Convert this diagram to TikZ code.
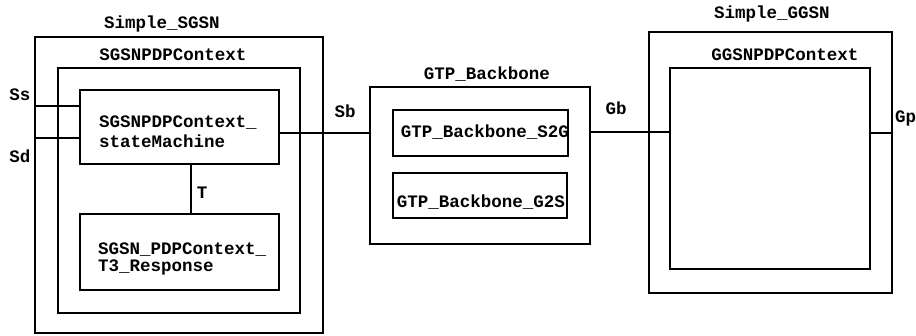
\documentclass[tikz,border=0pt]{standalone}
\usepackage{fontspec}
\setmonofont{Liberation Mono}
\begin{document}
\begin{tikzpicture}[x=1pt,y=-1pt,
  box/.style={draw,line width=1.5pt,rectangle,inner sep=0pt,anchor=center},
  conn/.style={line width=2.4pt},
  lbl/.style={inner sep=0pt,anchor=base,font=\ttfamily\bfseries\fontsize{17.5}{20}\selectfont},
  lbll/.style={lbl,anchor=base west}]
\useasboundingbox (0,0) rectangle (916,335);
% boxes
\node[box,minimum width=288pt,minimum height=296pt] (sgsn) at (179,185) {};
\node[box,minimum width=242pt,minimum height=245pt] (sgsnctx) at (179,190.5) {};
\node[box,minimum width=199pt,minimum height=74pt] (sm) at (179.5,127) {};
\node[box,minimum width=199pt,minimum height=76pt] (t3) at (179.5,252) {};
\node[box,minimum width=220pt,minimum height=157pt] (gtp) at (480,165.5) {};
\node[box,minimum width=175pt,minimum height=46pt] (s2g) at (480.5,133) {};
\node[box,minimum width=174pt,minimum height=45pt] (g2s) at (480,195.5) {};
\node[box,minimum width=243pt,minimum height=261pt] (ggsn) at (770.5,162.5) {};
\node[box,minimum width=200pt,minimum height=201pt] (ggsnctx) at (770,168.5) {};
% connector helpers
\coordinate (ssY) at (35,106);
\coordinate (sdY) at (35,138);
\coordinate (sbY) at (0,133);
\coordinate (gbY) at (0,132);
\coordinate (gpY) at (0,133);
\coordinate (tX) at (191,0);
% connectors
\draw[conn] (ssY) -- (ssY -| sm.west);
\draw[conn] (sdY) -- (sdY -| sm.west);
\draw[conn] (sm.east |- sbY) -- (gtp.west |- sbY);
\draw[conn] (gtp.east |- gbY) -- (ggsnctx.west |- gbY);
\draw[conn] (ggsnctx.east |- gpY) -- (ggsn.east |- gpY);
\draw[line width=1.5pt] (sm.south -| tX) -- (t3.north -| tX);
% labels
\node[lbl] (lsgsn) at (162,28) {Simple\_SGSN};
\node[lbl] (lsgsnctx) at (173,60) {SGSNPDPContext};
\node[lbll] (lsm1) at (99,127) {SGSNPDPContext\_};
\node[lbll] (lsm2) at (99,147) {stateMachine};
\node[lbll] (lt31) at (98,254) {SGSN\_PDPContext\_};
\node[lbll] (lt32) at (98,271) {T3\_Response};
\node[lbl] (lT) at (202,198) {T};
\node[lbl] (lss) at (20,100) {Ss};
\node[lbl] (lsd) at (20,162) {Sd};
\node[lbl] (lsb) at (345,117) {Sb};
\node[lbl] (lgtp) at (487,79) {GTP\_Backbone};
\node[lbl] (ls2g) at (485,137) {GTP\_Backbone\_S2G};
\node[lbl] (lg2s) at (481,207) {GTP\_Backbone\_G2S};
\node[lbl] (lgb) at (616,114) {Gb};
\node[lbl] (lggsn) at (772,18) {Simple\_GGSN};
\node[lbl] (lggsnctx) at (785,60) {GGSNPDPContext};
\node[lbll] (lgp) at (895,122) {Gp};
\end{tikzpicture}
\end{document}
